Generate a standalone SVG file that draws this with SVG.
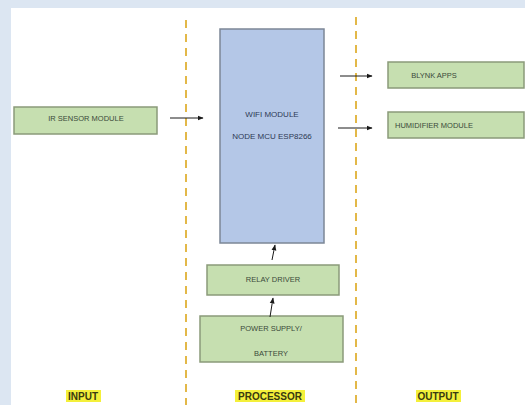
<svg xmlns="http://www.w3.org/2000/svg" width="525" height="405" viewBox="0 0 525 405">
<defs>
<marker id="ah" viewBox="0 0 10 10" refX="9" refY="5" markerWidth="6" markerHeight="6" orient="auto"><path d="M0,1 L10,5 L0,9 z" fill="#1a1a1a"/></marker>
<style>
.g{fill:#c6dfb0;stroke:#8a9a7a;stroke-width:1.5}
.b{fill:#b4c7e7;stroke:#7c8796;stroke-width:1.5}
.t{font-family:"Liberation Sans",Arial,sans-serif;font-size:7.5px;fill:#3a4a3a;text-anchor:middle}
.tb{font-family:"Liberation Sans",Arial,sans-serif;font-size:8px;fill:#2e3a55;text-anchor:middle}
.d{stroke:#e3b848;stroke-width:2;stroke-dasharray:8,6;fill:none}
.c{stroke:#1a1a1a;stroke-width:1;fill:none;marker-end:url(#ah)}
.l{font-family:"Liberation Sans",Arial,sans-serif;font-size:10px;font-weight:bold;fill:#3a3a10;text-anchor:middle}
.hl{fill:#f4f03a}
</style>
</defs>
<rect width="525" height="405" fill="#dce6f2"/>
<rect x="11" y="8" width="514" height="397" fill="#ffffff"/>
<line class="d" x1="186" y1="20" x2="186" y2="405"/>
<line class="d" x1="356" y1="17" x2="356" y2="405"/>
<g id="wifi"><rect class="b" x="220" y="29" width="104" height="214"/><text class="tb" x="272" y="117">WIFI MODULE</text><text class="tb" x="272" y="139">NODE  MCU ESP8266</text></g>
<g id="ir"><rect class="g" x="14" y="107" width="143" height="27"/><text class="t" x="86" y="121">IR SENSOR MODULE</text></g>
<g id="blynk"><rect class="g" x="388" y="62" width="136" height="26"/><text class="t" x="434" y="78">BLYNK APPS</text></g>
<g id="humid"><rect class="g" x="388" y="112" width="136" height="26"/><text class="t" x="434" y="128">HUMIDIFIER MODULE</text></g>
<g id="relay"><rect class="g" x="207" y="265" width="132" height="30"/><text class="t" x="273" y="282">RELAY DRIVER</text></g>
<g id="power"><rect class="g" x="200" y="316" width="143" height="46"/><text class="t" x="271" y="331">POWER SUPPLY/</text><text class="t" x="271" y="356">BATTERY</text></g>
<g id="connectors">
<line class="c" x1="170" y1="118" x2="203" y2="118"/>
<line class="c" x1="340" y1="76" x2="372" y2="76"/>
<line class="c" x1="338" y1="128" x2="372" y2="128"/>
<line class="c" x1="272" y1="260" x2="275" y2="245"/>
<line class="c" x1="270" y1="317" x2="273" y2="298"/>
</g>
<g id="labels">
<rect class="hl" x="66" y="390" width="35" height="12"/><text class="l" x="83" y="400">INPUT</text>
<rect class="hl" x="235" y="390" width="70" height="12"/><text class="l" x="270" y="400">PROCESSOR</text>
<rect class="hl" x="416" y="390" width="45" height="12"/><text class="l" x="438" y="400">OUTPUT</text>
</g>
</svg>
